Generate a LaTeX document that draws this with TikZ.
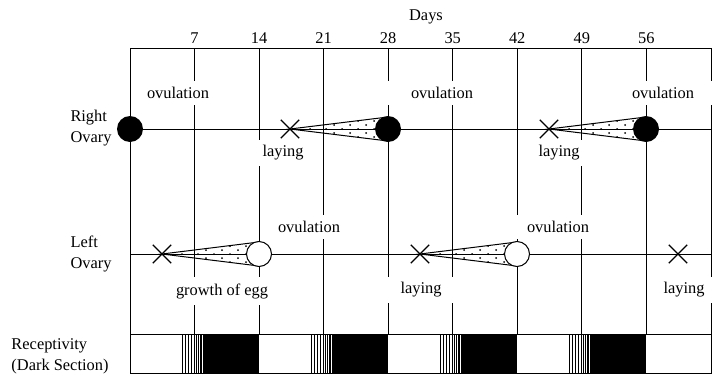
\documentclass[tikz,border=0pt]{standalone}
\usepackage{fontspec}
\setmainfont{Liberation Serif}
\usetikzlibrary{shapes.misc}
\newcommand\eggcone[3]{%
  \begin{scope}
    \clip (#1,#3) -- (#2,{#3-12}) -- (#2,{#3+12}) -- cycle;
    \foreach \i in {0,...,13} {
      \foreach \j in {-2,...,2} {
        \fill ({#1+4+8*\i},{#3+8*\j+4*mod(\i,2)}) circle (1);
      }
    }
  \end{scope}
  \draw (#2,{#3-12}) -- (#1,#3) -- (#2,{#3+12});
}
\begin{document}
\begin{tikzpicture}[x=1pt,y=-1pt,line width=1pt,
  txt/.style={font=\fontsize{16.4}{21}\selectfont, inner sep=2pt},
  lbl/.style={txt, fill=white, inner xsep=6pt, inner ysep=6pt},
  xmark/.style={cross out, draw, minimum size=17pt, inner sep=0pt, line width=1.3pt},
  fullegg/.style={circle, fill=black, minimum size=26pt, inner sep=0pt},
  openegg/.style={circle, draw, fill=white, minimum size=25pt, inner sep=0pt},
  stripe/.style={line width=0.9pt}]
\useasboundingbox (0,0) rectangle (723,386);
% grid
\foreach \d in {7,14,...,56} {
  \draw ({130+9.22*\d},48) -- ({130+9.22*\d},334);
}
\draw (130,48) rectangle (711,373);
\draw (130,334) -- (711,334);
\draw (130,129) -- (711,129);
\draw (130,254) -- (711,254);
% receptivity bar
\foreach \k in {0,1,2,3} {
  \pgfmathsetmacro\xe{130+9.22*14*(\k+1)}
  \pgfmathsetmacro\xs{\xe-56.4}
  \fill (\xs,334) rectangle (\xe,373);
  \foreach \o in {-20.4,-17,-14,-11,-8.7,-6.4,-4.4,-2.7,-1} {
    \draw[stripe] ({\xs+\o},334) -- ({\xs+\o},373);
  }
}
\draw (130,334) rectangle (711,373);
% cones
\eggcone{290}{388}{129}
\eggcone{549}{646}{129}
\eggcone{162}{259}{254}
\eggcone{420}{517}{254}
% eggs
\node[fullegg] (r0) at (130,129) {};
\node[fullegg] (r28) at (388,129) {};
\node[fullegg] (r56) at (646,129) {};
\node[openegg] (l14) at (259,254) {};
\node[openegg] (l42) at (517,254) {};
% laying marks
\node[xmark] (rx1) at (290,129) {};
\node[xmark] (rx2) at (549,129) {};
\node[xmark] (lx1) at (162,254) {};
\node[xmark] (lx2) at (420,254) {};
\node[xmark] (lx3) at (678,254) {};
% axis labels
\node[txt] (days) at (426,17) {Days};
\foreach \d in {7,14,...,56} {
  \node[txt] (t\d) at ({130+9.22*\d},38) {\d};
}
% row labels
\node[txt, anchor=west, align=left] (ro) at (68,128) {Right\\Ovary};
\node[txt, anchor=west, align=left] (lo) at (68,254) {Left\\Ovary};
\node[txt, anchor=west, align=left] (rc) at (9,356) {Receptivity\\(Dark Section)};
% event labels
\node[lbl] (ov1) at (178,93) {ovulation};
\node[lbl, inner xsep=24pt] (ov2) at (442,93) {ovulation};
\node[lbl, inner xsep=20pt] (ov3) at (663,93) {ovulation};
\node[lbl] (la1) at (283,153) {laying};
\node[lbl] (la2) at (559,153) {laying};
\node[lbl] (ov4) at (309,227) {ovulation};
\node[lbl, inner xsep=12pt] (ov5) at (558,227) {ovulation};
\node[lbl, inner xsep=10pt] (gr) at (222,291) {growth of egg};
\node[lbl, inner xsep=15pt] (la3) at (421,290) {laying};
\node[lbl, inner xsep=9pt] (la4) at (684,290) {laying};
\end{tikzpicture}
\end{document}
